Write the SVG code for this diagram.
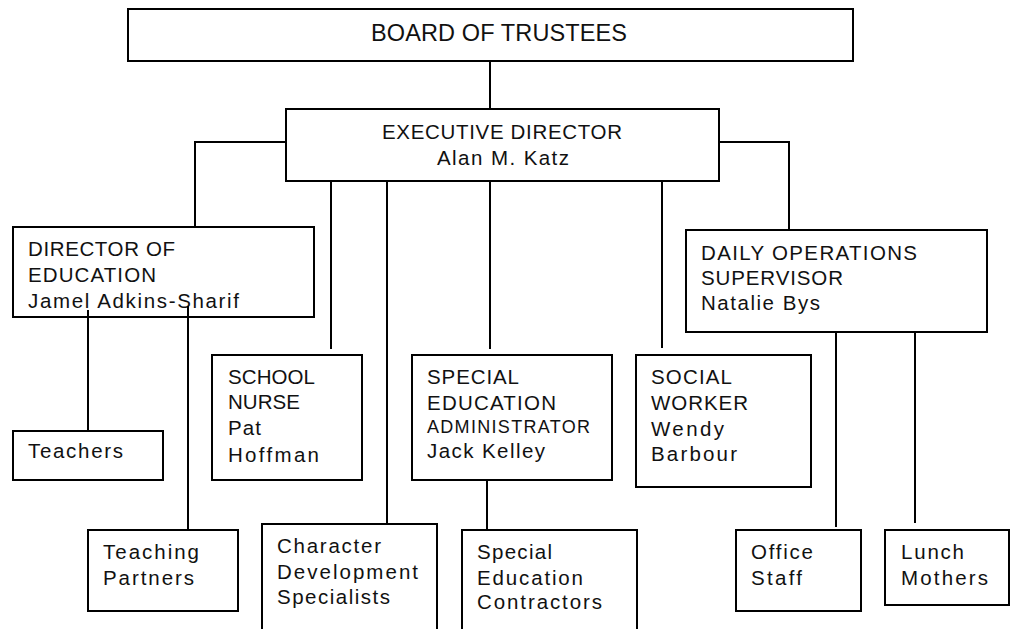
<svg xmlns="http://www.w3.org/2000/svg" width="1011" height="629" viewBox="0 0 1011 629">
<style>
rect.box{fill:#fff;stroke:#000;stroke-width:2}
.conn path{fill:none;stroke:#000;stroke-width:2}
text{font-family:"Liberation Sans",Arial,sans-serif;font-size:20.5px;fill:#111}
text.big{font-size:23.5px}
text.sm{font-size:18px}
</style>
<rect width="1011" height="629" fill="#fff"/>
<g id="board"><rect class="box" x="128" y="9" width="725" height="52"/><text class="big" x="371" y="41" textLength="256" lengthAdjust="spacing">BOARD OF TRUSTEES</text></g>
<g id="exec"><rect class="box" x="286" y="109" width="433" height="72"/><text x="382" y="139" textLength="240" lengthAdjust="spacing">EXECUTIVE DIRECTOR</text><text x="437" y="165" textLength="132" lengthAdjust="spacing">Alan M. Katz</text></g>
<g id="doe"><rect class="box" x="13" y="227" width="301" height="90"/><text x="28" y="256" textLength="147" lengthAdjust="spacing">DIRECTOR OF</text><text x="28" y="282" textLength="128" lengthAdjust="spacing">EDUCATION</text><text x="28" y="308" textLength="211" lengthAdjust="spacing">Jamel Adkins-Sharif</text></g>
<g id="dos"><rect class="box" x="686" y="230" width="301" height="102"/><text x="701" y="260" textLength="216" lengthAdjust="spacing">DAILY OPERATIONS</text><text x="701" y="285" textLength="142" lengthAdjust="spacing">SUPERVISOR</text><text x="701" y="310" textLength="119" lengthAdjust="spacing">Natalie Bys</text></g>
<g id="nurse"><rect class="box" x="212" y="355" width="150" height="125"/><text x="228" y="384" textLength="87" lengthAdjust="spacing">SCHOOL</text><text x="228" y="409" textLength="72" lengthAdjust="spacing">NURSE</text><text x="228" y="435" textLength="33" lengthAdjust="spacing">Pat</text><text x="228" y="462" textLength="91" lengthAdjust="spacing">Hoffman</text></g>
<g id="speced"><rect class="box" x="412" y="355" width="200" height="125"/><text x="427" y="384" textLength="92" lengthAdjust="spacing">SPECIAL</text><text x="427" y="410" textLength="129" lengthAdjust="spacing">EDUCATION</text><text class="sm" x="427" y="433" textLength="163" lengthAdjust="spacing">ADMINISTRATOR</text><text x="427" y="458" textLength="118" lengthAdjust="spacing">Jack Kelley</text></g>
<g id="social"><rect class="box" x="636" y="355" width="175" height="132"/><text x="651" y="384" textLength="81" lengthAdjust="spacing">SOCIAL</text><text x="651" y="410" textLength="97" lengthAdjust="spacing">WORKER</text><text x="651" y="436" textLength="73" lengthAdjust="spacing">Wendy</text><text x="651" y="461" textLength="86" lengthAdjust="spacing">Barbour</text></g>
<g id="teachers"><rect class="box" x="13" y="431" width="150" height="49"/><text x="28" y="458" textLength="95" lengthAdjust="spacing">Teachers</text></g>
<g id="partners"><rect class="box" x="88" y="530" width="150" height="81"/><text x="103" y="559" textLength="96" lengthAdjust="spacing">Teaching</text><text x="103" y="585" textLength="91" lengthAdjust="spacing">Partners</text></g>
<g id="chardev"><rect class="box" x="262" y="524" width="175" height="120"/><text x="277" y="553" textLength="104" lengthAdjust="spacing">Character</text><text x="277" y="579" textLength="141" lengthAdjust="spacing">Development</text><text x="277" y="604" textLength="113" lengthAdjust="spacing">Specialists</text></g>
<g id="contractors"><rect class="box" x="462" y="530" width="175" height="114"/><text x="477" y="559" textLength="75" lengthAdjust="spacing">Special</text><text x="477" y="585" textLength="106" lengthAdjust="spacing">Education</text><text x="477" y="609" textLength="125" lengthAdjust="spacing">Contractors</text></g>
<g id="office"><rect class="box" x="736" y="530" width="125" height="81"/><text x="751" y="559" textLength="62" lengthAdjust="spacing">Office</text><text x="751" y="585" textLength="51" lengthAdjust="spacing">Staff</text></g>
<g id="lunch"><rect class="box" x="885" y="530" width="124" height="75"/><text x="901" y="559" textLength="63" lengthAdjust="spacing">Lunch</text><text x="901" y="585" textLength="87" lengthAdjust="spacing">Mothers</text></g>
<g class="conn" id="connectors">
<path d="M490,61 V109"/>
<path d="M286,142 H195 V227"/>
<path d="M719,142 H789 V230"/>
<path d="M331,181 V349"/>
<path d="M387,181 V524"/>
<path d="M490,181 V349"/>
<path d="M662,181 V348"/>
<path d="M88,310 V431"/>
<path d="M188,306 V530"/>
<path d="M487,480 V530"/>
<path d="M836,332 V527"/>
<path d="M915,332 V523"/>
</g>
</svg>
